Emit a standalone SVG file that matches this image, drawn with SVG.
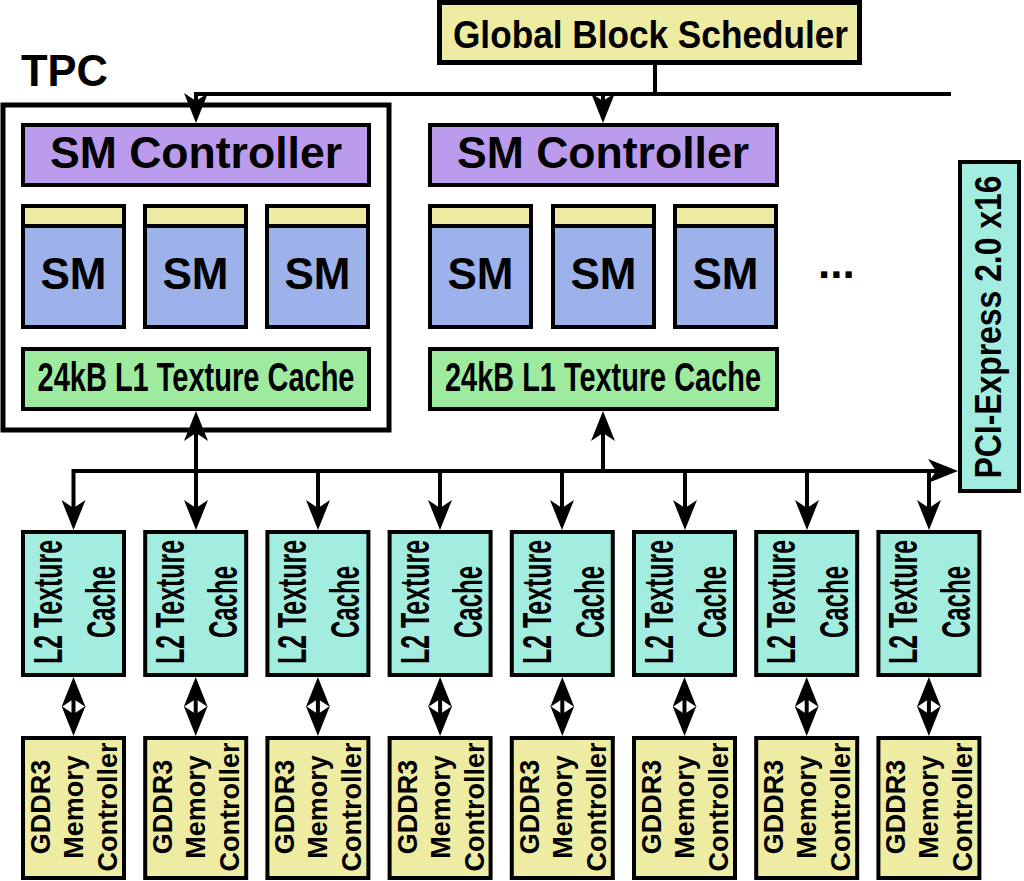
<svg xmlns="http://www.w3.org/2000/svg" width="1024" height="881" viewBox="0 0 1024 881">
<style>
.box{stroke:#000;stroke-width:4}
.yel{fill:#EEEBA3}.pur{fill:#BB9BEB}.blu{fill:#9DB1EA}.grn{fill:#9EEBA0}.tea{fill:#A2EDDF}
text{font-family:"Liberation Sans",Arial,Helvetica,sans-serif;font-weight:bold;fill:#000}
.big{font-size:44px;text-anchor:middle}
.l1{font-size:40px;text-anchor:middle}
.l2{font-size:41px;text-anchor:middle}
.mc{font-size:27px;text-anchor:middle}
.con{fill:none;stroke:#000;stroke-width:4;stroke-linejoin:miter}
</style>
<defs>
<marker id="ah" viewBox="0 0 30 24" refX="20" refY="12" markerWidth="30" markerHeight="24" markerUnits="userSpaceOnUse" orient="auto-start-reverse">
<path d="M0,0 L30,12 L0,24 L8,12 Z" fill="#000"/>
</marker>
</defs>
<rect width="1024" height="881" fill="#fff"/>

<g id="tpc">
<rect x="3" y="105" width="386" height="325" fill="none" stroke="#000" stroke-width="5"/>
<text x="21" y="86" style="font-size:44px" textLength="87" lengthAdjust="spacingAndGlyphs">TPC</text>
</g>

<g id="gbs">
<rect x="439.5" y="2.5" width="420" height="60" class="yel" stroke="#000" stroke-width="5"/>
<text x="650.5" y="48" style="font-size:38px;text-anchor:middle" textLength="395" lengthAdjust="spacingAndGlyphs">Global Block Scheduler</text>
</g>

<g id="smc1"><rect x="23" y="125" width="346" height="60" class="box pur"/><text x="196" y="168" class="big" textLength="292" lengthAdjust="spacingAndGlyphs">SM Controller</text></g>
<g id="smc2"><rect x="430" y="125" width="347" height="60" class="box pur"/><text x="603" y="168" class="big" textLength="292" lengthAdjust="spacingAndGlyphs">SM Controller</text></g>

<g id="sm1"><rect x="23" y="206" width="101" height="121" class="box blu"/><rect x="23" y="206" width="101" height="20" class="box yel"/><text x="73.5" y="289" class="big">SM</text></g>
<g id="sm2"><rect x="145" y="206" width="101" height="121" class="box blu"/><rect x="145" y="206" width="101" height="20" class="box yel"/><text x="195.5" y="289" class="big">SM</text></g>
<g id="sm3"><rect x="267" y="206" width="101" height="121" class="box blu"/><rect x="267" y="206" width="101" height="20" class="box yel"/><text x="317.5" y="289" class="big">SM</text></g>
<g id="sm4"><rect x="430" y="206" width="101" height="121" class="box blu"/><rect x="430" y="206" width="101" height="20" class="box yel"/><text x="480.5" y="289" class="big">SM</text></g>
<g id="sm5"><rect x="553" y="206" width="101" height="121" class="box blu"/><rect x="553" y="206" width="101" height="20" class="box yel"/><text x="603.5" y="289" class="big">SM</text></g>
<g id="sm6"><rect x="675" y="206" width="101" height="121" class="box blu"/><rect x="675" y="206" width="101" height="20" class="box yel"/><text x="725.5" y="289" class="big">SM</text></g>

<g id="more"><text x="818" y="278" style="font-size:44px">...</text></g>

<g id="l1a"><rect x="23" y="349" width="346" height="60" class="box grn"/><text x="196" y="391" class="l1" textLength="317" lengthAdjust="spacingAndGlyphs">24kB L1 Texture Cache</text></g>
<g id="l1b"><rect x="430" y="349" width="347" height="60" class="box grn"/><text x="603" y="391" class="l1" textLength="316" lengthAdjust="spacingAndGlyphs">24kB L1 Texture Cache</text></g>

<g id="pci"><rect x="960" y="162" width="59" height="329" class="box tea"/><text x="1001" y="327" transform="rotate(-90 1001 327)" style="font-size:36px;text-anchor:middle" textLength="303" lengthAdjust="spacingAndGlyphs">PCI-Express 2.0 x16</text></g>

<g id="l2-1"><rect x="23" y="532" width="101" height="143" class="box tea"/><text x="62" y="602" transform="rotate(-90 62 602)" class="l2" textLength="124" lengthAdjust="spacingAndGlyphs">L2 Texture</text><text x="115" y="602" transform="rotate(-90 115 602)" class="l2" textLength="72" lengthAdjust="spacingAndGlyphs">Cache</text></g>
<g id="l2-2"><rect x="145.2" y="532" width="101" height="143" class="box tea"/><text x="184.2" y="602" transform="rotate(-90 184.2 602)" class="l2" textLength="124" lengthAdjust="spacingAndGlyphs">L2 Texture</text><text x="237.2" y="602" transform="rotate(-90 237.2 602)" class="l2" textLength="72" lengthAdjust="spacingAndGlyphs">Cache</text></g>
<g id="l2-3"><rect x="267.4" y="532" width="101" height="143" class="box tea"/><text x="306.4" y="602" transform="rotate(-90 306.4 602)" class="l2" textLength="124" lengthAdjust="spacingAndGlyphs">L2 Texture</text><text x="359.4" y="602" transform="rotate(-90 359.4 602)" class="l2" textLength="72" lengthAdjust="spacingAndGlyphs">Cache</text></g>
<g id="l2-4"><rect x="389.6" y="532" width="101" height="143" class="box tea"/><text x="428.6" y="602" transform="rotate(-90 428.6 602)" class="l2" textLength="124" lengthAdjust="spacingAndGlyphs">L2 Texture</text><text x="481.6" y="602" transform="rotate(-90 481.6 602)" class="l2" textLength="72" lengthAdjust="spacingAndGlyphs">Cache</text></g>
<g id="l2-5"><rect x="511.8" y="532" width="101" height="143" class="box tea"/><text x="550.8" y="602" transform="rotate(-90 550.8 602)" class="l2" textLength="124" lengthAdjust="spacingAndGlyphs">L2 Texture</text><text x="603.8" y="602" transform="rotate(-90 603.8 602)" class="l2" textLength="72" lengthAdjust="spacingAndGlyphs">Cache</text></g>
<g id="l2-6"><rect x="634" y="532" width="101" height="143" class="box tea"/><text x="673" y="602" transform="rotate(-90 673 602)" class="l2" textLength="124" lengthAdjust="spacingAndGlyphs">L2 Texture</text><text x="726" y="602" transform="rotate(-90 726 602)" class="l2" textLength="72" lengthAdjust="spacingAndGlyphs">Cache</text></g>
<g id="l2-7"><rect x="756.2" y="532" width="101" height="143" class="box tea"/><text x="795.2" y="602" transform="rotate(-90 795.2 602)" class="l2" textLength="124" lengthAdjust="spacingAndGlyphs">L2 Texture</text><text x="848.2" y="602" transform="rotate(-90 848.2 602)" class="l2" textLength="72" lengthAdjust="spacingAndGlyphs">Cache</text></g>
<g id="l2-8"><rect x="878.4" y="532" width="101" height="143" class="box tea"/><text x="917.4" y="602" transform="rotate(-90 917.4 602)" class="l2" textLength="124" lengthAdjust="spacingAndGlyphs">L2 Texture</text><text x="970.4" y="602" transform="rotate(-90 970.4 602)" class="l2" textLength="72" lengthAdjust="spacingAndGlyphs">Cache</text></g>

<g id="mc-1"><rect x="23" y="738" width="101" height="140" class="box yel"/><text x="50" y="807" transform="rotate(-90 50 807)" class="mc">GDDR3</text><text x="83" y="807" transform="rotate(-90 83 807)" class="mc">Memory</text><text x="117" y="807" transform="rotate(-90 117 807)" class="mc">Controller</text></g>
<g id="mc-2"><rect x="145.2" y="738" width="101" height="140" class="box yel"/><text x="172.2" y="807" transform="rotate(-90 172.2 807)" class="mc">GDDR3</text><text x="205.2" y="807" transform="rotate(-90 205.2 807)" class="mc">Memory</text><text x="239.2" y="807" transform="rotate(-90 239.2 807)" class="mc">Controller</text></g>
<g id="mc-3"><rect x="267.4" y="738" width="101" height="140" class="box yel"/><text x="294.4" y="807" transform="rotate(-90 294.4 807)" class="mc">GDDR3</text><text x="327.4" y="807" transform="rotate(-90 327.4 807)" class="mc">Memory</text><text x="361.4" y="807" transform="rotate(-90 361.4 807)" class="mc">Controller</text></g>
<g id="mc-4"><rect x="389.6" y="738" width="101" height="140" class="box yel"/><text x="416.6" y="807" transform="rotate(-90 416.6 807)" class="mc">GDDR3</text><text x="449.6" y="807" transform="rotate(-90 449.6 807)" class="mc">Memory</text><text x="483.6" y="807" transform="rotate(-90 483.6 807)" class="mc">Controller</text></g>
<g id="mc-5"><rect x="511.8" y="738" width="101" height="140" class="box yel"/><text x="538.8" y="807" transform="rotate(-90 538.8 807)" class="mc">GDDR3</text><text x="571.8" y="807" transform="rotate(-90 571.8 807)" class="mc">Memory</text><text x="605.8" y="807" transform="rotate(-90 605.8 807)" class="mc">Controller</text></g>
<g id="mc-6"><rect x="634" y="738" width="101" height="140" class="box yel"/><text x="661" y="807" transform="rotate(-90 661 807)" class="mc">GDDR3</text><text x="694" y="807" transform="rotate(-90 694 807)" class="mc">Memory</text><text x="728" y="807" transform="rotate(-90 728 807)" class="mc">Controller</text></g>
<g id="mc-7"><rect x="756.2" y="738" width="101" height="140" class="box yel"/><text x="783.2" y="807" transform="rotate(-90 783.2 807)" class="mc">GDDR3</text><text x="816.2" y="807" transform="rotate(-90 816.2 807)" class="mc">Memory</text><text x="850.2" y="807" transform="rotate(-90 850.2 807)" class="mc">Controller</text></g>
<g id="mc-8"><rect x="878.4" y="738" width="101" height="140" class="box yel"/><text x="905.4" y="807" transform="rotate(-90 905.4 807)" class="mc">GDDR3</text><text x="938.4" y="807" transform="rotate(-90 938.4 807)" class="mc">Memory</text><text x="972.4" y="807" transform="rotate(-90 972.4 807)" class="mc">Controller</text></g>

<g id="connectors" class="con">
<path d="M655,65 V94"/>
<path d="M951,94 H196 V113" marker-end="url(#ah)"/>
<path d="M603,94 V113" marker-end="url(#ah)"/>
<path d="M196,421 V520" marker-start="url(#ah)" marker-end="url(#ah)"/>
<path d="M603,471 V421" marker-end="url(#ah)"/>
<path d="M73.5,520 V471 H948" marker-start="url(#ah)" marker-end="url(#ah)"/>
<path d="M318,471 V520" marker-end="url(#ah)"/>
<path d="M440,471 V520" marker-end="url(#ah)"/>
<path d="M562,471 V520" marker-end="url(#ah)"/>
<path d="M685,471 V520" marker-end="url(#ah)"/>
<path d="M807,471 V520" marker-end="url(#ah)"/>
<path d="M929,471 V520" marker-end="url(#ah)"/>
<path d="M73.5,687 V726" marker-start="url(#ah)" marker-end="url(#ah)"/>
<path d="M195.7,687 V726" marker-start="url(#ah)" marker-end="url(#ah)"/>
<path d="M317.9,687 V726" marker-start="url(#ah)" marker-end="url(#ah)"/>
<path d="M440.1,687 V726" marker-start="url(#ah)" marker-end="url(#ah)"/>
<path d="M562.3,687 V726" marker-start="url(#ah)" marker-end="url(#ah)"/>
<path d="M684.5,687 V726" marker-start="url(#ah)" marker-end="url(#ah)"/>
<path d="M806.7,687 V726" marker-start="url(#ah)" marker-end="url(#ah)"/>
<path d="M928.9,687 V726" marker-start="url(#ah)" marker-end="url(#ah)"/>
</g>
</svg>
